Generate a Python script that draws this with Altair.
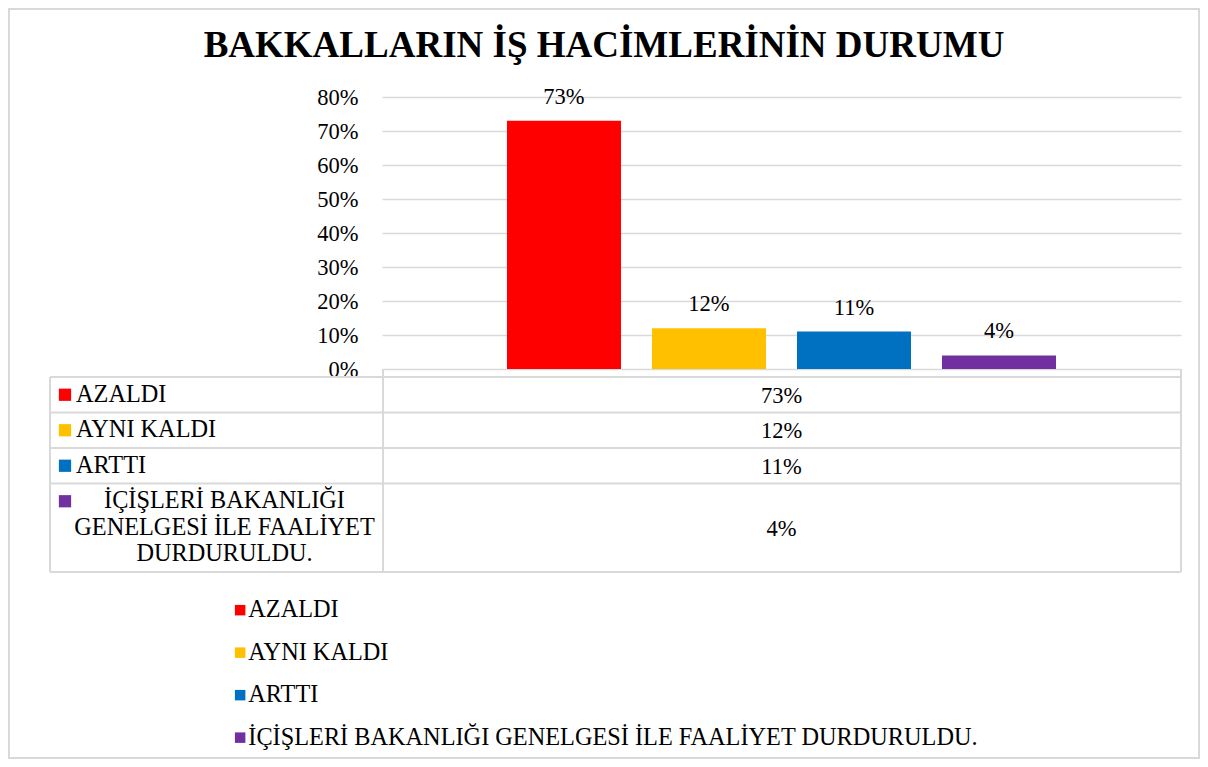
import altair as alt
import pandas as pd

# ---------------- data ----------------
title_text = "BAKKALLARIN İŞ HACİMLERİNİN DURUMU"
series = ["AZALDI", "AYNI KALDI", "ARTTI",
          "İÇİŞLERİ BAKANLIĞI GENELGESİ İLE FAALİYET DURDURULDU."]
values = [0.73, 0.12, 0.11, 0.04]
table_lines = [["AZALDI"], ["AYNI KALDI"], ["ARTTI"],
               ["İÇİŞLERİ BAKANLIĞI", "GENELGESİ İLE FAALİYET", "DURDURULDU."]]
colors = ["#FF0000", "#FFC000", "#0070C0", "#7030A0"]
y_ticks = [0, 0.1, 0.2, 0.3, 0.4, 0.5, 0.6, 0.7, 0.8]

# ---------------- layout (pixels, relative to the plot area) ----------------
FONT = "Liberation Serif"
W, H = 799, 272
PAD = {"left": 374, "top": 89, "right": 19, "bottom": 390}
GRID = "#d9d9d9"
TXT = "#000000"
FS_AXIS = 22.5
FS_TBL = 24.3
TBL_LEFT, TBL_MID, TBL_RIGHT = -332, 1, W
ROW_TOP0, ROW_BASE, LINE_H = 280, 35.5, 26.5

df = pd.DataFrame({"series": series, "value": values})

rows = []
top = ROW_TOP0
for s, lines, v in zip(series, table_lines, values):
    h = ROW_BASE + LINE_H * (len(lines) - 1)
    rows.append({"series": s, "lines": lines, "n": len(lines), "value": v,
                 "top": top, "bottom": top + h,
                 "first": top + ROW_BASE / 2, "mid": top + h / 2 + 1})
    top += h
table_bottom = top
tdf = pd.DataFrame(rows)
tdf["sq_x"] = TBL_LEFT + 15
tdf["lbl_x"] = TBL_LEFT + 26
tdf["ml_x"] = (TBL_LEFT + 26 + TBL_MID - 10) / 2
tdf["val_x"] = W / 2

hlines = [{"x": TBL_LEFT, "x2": TBL_RIGHT, "y": r["top"], "y2": r["top"]} for r in rows]
hlines.append({"x": TBL_LEFT, "x2": TBL_RIGHT, "y": table_bottom, "y2": table_bottom})
vlines = [
    {"x": TBL_LEFT, "x2": TBL_LEFT, "y": ROW_TOP0, "y2": table_bottom},
    {"x": TBL_MID, "x2": TBL_MID, "y": H, "y2": table_bottom},
    {"x": TBL_RIGHT, "x2": TBL_RIGHT, "y": H, "y2": table_bottom},
]
ldf = pd.DataFrame(hlines + vlines)

def px(field):
    return alt.X(f"{field}:Q", scale=None, axis=None)

def py(field):
    return alt.Y(f"{field}:Q", scale=None, axis=None)

color_scale = alt.Scale(domain=series, range=colors)

# ---------------- bars ----------------
base = alt.Chart(df).encode(
    x=alt.X("series:N", sort=series, axis=None,
            scale=alt.Scale(paddingInner=0.2138, paddingOuter=0.862)),
    y=alt.Y("value:Q", scale=alt.Scale(domain=[0, 0.8], nice=False),
            axis=alt.Axis(values=y_ticks, format=".0%", title=None, domain=False,
                          ticks=False, labelPadding=24, labelFont=FONT,
                          labelFontSize=FS_AXIS, labelColor=TXT, gridColor=GRID,
                          gridWidth=1.5)),
)
bars = base.mark_bar().encode(
    color=alt.Color("series:N", scale=color_scale, sort=series,
                    legend=alt.Legend(title=None, orient="none", legendX=-154,
                                      legendY=501, direction="vertical",
                                      symbolType="square", symbolSize=110,
                                      symbolStrokeWidth=0, labelFont=FONT,
                                      labelFontSize=FS_TBL, labelColor=TXT,
                                      rowPadding=17.5, labelOffset={"expr": "-4"},
                                      labelLimit=1000))
)
bar_labels = base.mark_text(dy=-24, baseline="middle", font=FONT, fontSize=FS_AXIS,
                            color=TXT).encode(text=alt.Text("value:Q", format=".0%"))

# ---------------- data table ----------------
tbl_lines = alt.Chart(ldf).mark_rule(color=GRID, strokeWidth=2).encode(
    x=px("x"), x2="x2", y=py("y"), y2="y2")
tbl_sq = alt.Chart(tdf).mark_square(size=150, opacity=1).encode(
    x=px("sq_x"), y=py("first"),
    color=alt.Color("series:N", scale=color_scale, legend=None))
tbl_lbl1 = alt.Chart(tdf).transform_filter("datum.n == 1").mark_text(
    align="left", baseline="middle", font=FONT, fontSize=FS_TBL, color=TXT).encode(
    x=px("lbl_x"), y=py("first"), text="lines")
tbl_lblm = alt.Chart(tdf).transform_filter("datum.n > 1").mark_text(
    align="center", baseline="middle", font=FONT, fontSize=FS_TBL, color=TXT,
    lineHeight=LINE_H).encode(x=px("ml_x"), y=py("first"), text="lines")
tbl_val = alt.Chart(tdf).mark_text(
    align="center", baseline="middle", font=FONT, fontSize=FS_AXIS, color=TXT).encode(
    x=px("val_x"), y=py("mid"), text=alt.Text("value:Q", format=".0%"))

frame = alt.Chart(df).mark_rect(fill=None, stroke=GRID, strokeWidth=1.5).encode(
    x=alt.value(-PAD["left"] + 1), x2=alt.value(W + PAD["right"] - 1),
    y=alt.value(-PAD["top"] + 1), y2=alt.value(H + PAD["bottom"] - 1))

chart = alt.layer(
    frame, tbl_lines, bars, bar_labels, tbl_sq, tbl_lbl1, tbl_lblm, tbl_val
).properties(
    width=W, height=H, padding=PAD,
    autosize=alt.AutoSizeParams(type="none"),
    title=alt.TitleParams(text=title_text, font=FONT, fontSize=37,
                          fontWeight="bold", color=TXT, anchor="middle",
                          frame="group", dx=-177.5, dy=86, offset=0,
                          baseline="alphabetic"),
).configure_view(stroke=None)

chart.save("out.html", embed_options={"renderer": "svg", "actions": False})
